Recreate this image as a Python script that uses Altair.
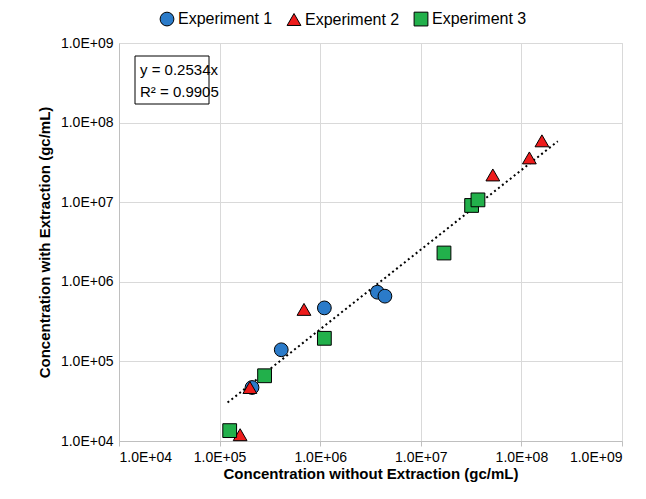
import altair as alt
import pandas as pd

exp1_x = [2.1e5, 4.1e5, 1.1e6, 3.7e6, 4.4e6]
exp1_y = [4.7e4, 1.4e5, 4.7e5, 7.4e5, 6.6e5]
exp2_x = [1.6e5, 2.0e5, 6.9e5, 5.2e7, 1.2e8, 1.6e8]
exp2_y = [1.2e4, 4.7e4, 4.5e5, 2.2e7, 3.6e7, 5.9e7]
exp3_x = [1.26e5, 2.8e5, 1.1e6, 1.7e7, 3.2e7, 3.7e7]
exp3_y = [1.35e4, 6.6e4, 1.95e5, 2.3e6, 9.1e6, 1.07e7]
slope = 0.2534
fit_x = [1.2e5, 2.3e8]

rows = []
for name, xs, ys in [("Experiment 1", exp1_x, exp1_y),
                     ("Experiment 2", exp2_x, exp2_y),
                     ("Experiment 3", exp3_x, exp3_y)]:
    rows += [{"series": name, "x": x, "y": y} for x, y in zip(xs, ys)]
df = pd.DataFrame(rows)
fit = pd.DataFrame({"x": fit_x, "y": [slope * x for x in fit_x]})

label_expr = ("'1.0E+' + (round(log(datum.value)/LN10) < 10 ? '0' : '') "
              "+ round(log(datum.value)/LN10)")
ticks = [1e4, 1e5, 1e6, 1e7, 1e8, 1e9]
xscale = alt.Scale(type="log", domain=[1e4, 1e9])
yscale = alt.Scale(type="log", domain=[1e4, 1e9])
xaxis = alt.Axis(values=ticks, labelExpr=label_expr, title="Concentration without Extraction (gc/mL)",
                 grid=True, tickSize=5, labelPadding=4, titlePadding=2)
yaxis = alt.Axis(values=ticks, labelExpr=label_expr, title="Concentration with Extraction (gc/mL)",
                 grid=True, tickSize=0, labelPadding=6, titlePadding=8)

line = alt.Chart(fit).mark_line(color="black", strokeDash=[2, 3], strokeWidth=2).encode(
    x=alt.X("x:Q", scale=xscale, axis=xaxis),
    y=alt.Y("y:Q", scale=yscale, axis=yaxis),
)

names = ["Experiment 1", "Experiment 2", "Experiment 3"]
points = alt.Chart(df).mark_point(filled=True, size=190, stroke="black", strokeWidth=1, opacity=1).encode(
    x=alt.X("x:Q", scale=xscale),
    y=alt.Y("y:Q", scale=yscale),
    color=alt.Color("series:N", scale=alt.Scale(domain=names, range=["#2b7bc9", "#ee1c1c", "#22b04b"]),
                    legend=alt.Legend(title=None, orient="none", legendX=40, legendY=-32,
                                      direction="horizontal",
                                      labelFontSize=16, symbolSize=190, symbolStrokeColor="black",
                                      symbolStrokeWidth=1, columnPadding=12, labelOffset=3)),
    shape=alt.Shape("series:N", scale=alt.Scale(domain=names, range=["circle", "triangle-up", "square"])),
)

box = alt.Chart(pd.DataFrame({"a": [0]})).mark_rect(fill="white", stroke="black", strokeWidth=1).encode(
    x=alt.value(16), x2=alt.value(90), y=alt.value(13), y2=alt.value(61))
txt = alt.Chart(pd.DataFrame({"t": ["y = 0.2534x", "R² = 0.9905"], "p": [27, 49]})).mark_text(
    align="left", baseline="middle", fontSize=15, font="Arial").encode(
    x=alt.value(21), y=alt.Y("p:Q", scale=None), text="t:N")

chart = (line + points + box + txt).properties(
    width=503, height=398, padding={"left": 29, "top": 3, "right": 5, "bottom": 5}
).configure_axis(
    labelFont="Arial", titleFont="Arial", labelFontSize=14, titleFontSize=15, titleFontWeight="bold",
    labelColor="black", titleColor="black", gridColor="#d9d9d9", domainColor="#bfbfbf", tickColor="#bfbfbf"
).configure_legend(labelFont="Arial").configure_view(stroke="#d9d9d9")

chart.save("out.html", embed_options={"renderer": "svg", "actions": False})
